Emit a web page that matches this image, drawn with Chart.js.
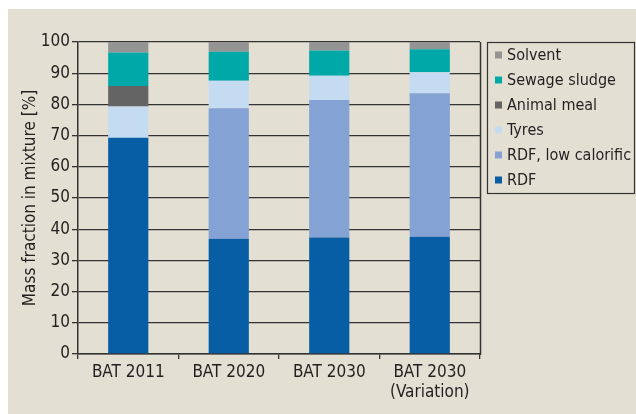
<!DOCTYPE html>
<html>
<head>
<meta charset="utf-8">
<script src="https://cdn.jsdelivr.net/npm/chart.js@4"></script>
<style>
  html, body { margin: 0; padding: 0; background: #fff; }
</style>
</head>
<body>
<canvas id="mixChart" width="636" height="414"></canvas>
<script>
// fuel shares per scenario, in % of the mixture
const categories = ["BAT 2011", "BAT 2020", "BAT 2030", ["BAT 2030", "(Variation)"]];
const rdf = [69.3, 36.9, 37.3, 37.6];
const rdfLowCalorific = [0, 41.9, 44.1, 46.0];
const tyres = [10.0, 8.8, 7.8, 6.7];
const animalMeal = [6.6, 0, 0, 0];
const sewageSludge = [10.7, 9.3, 8.1, 7.4];
const solvent = [3.4, 3.1, 2.7, 2.3];

const FONT = "'Liberation Sans Narrow', 'DejaVu Sans Condensed', sans-serif";
const INK = "#231f20";
const LINE = "#333333";

const paperBg = {
  id: "paperBg",
  beforeDraw(chart) {
    const ctx = chart.ctx;
    ctx.save();
    ctx.fillStyle = "#ffffff";
    ctx.fillRect(0, 0, chart.width, chart.height);
    ctx.fillStyle = "#e4dfd3";
    ctx.fillRect(8, 9, chart.width - 8, chart.height - 9);
    ctx.restore();
  },
};

// right edge of the plot frame + boxed legend (top series first)
const frameAndLegend = {
  id: "frameAndLegend",
  afterDraw(chart) {
    const ctx = chart.ctx;
    const area = chart.chartArea;
    ctx.save();
    ctx.strokeStyle = LINE;
    ctx.lineWidth = 1.5;
    ctx.beginPath();
    ctx.moveTo(area.right + 0.5, area.top);
    ctx.lineTo(area.right + 0.5, area.bottom + 1);
    ctx.stroke();

    const box = { x: 487.5, y: 42.5, w: 147, h: 151 };
    ctx.lineWidth = 1.2;
    ctx.strokeRect(box.x, box.y, box.w, box.h);

    const items = chart.data.datasets.slice().reverse();
    ctx.font = "16px " + FONT;
    ctx.textBaseline = "middle";
    items.forEach((ds, i) => {
      const cy = 55 + i * 25;
      ctx.fillStyle = ds.backgroundColor;
      ctx.fillRect(495, cy - 3.5, 7, 7);
      ctx.fillStyle = INK;
      ctx.fillText(ds.label, 507, cy + 1);
    });
    ctx.restore();
  },
};

new Chart(document.getElementById("mixChart"), {
  type: "bar",
  data: {
    labels: categories,
    datasets: [
      { label: "RDF", data: rdf, backgroundColor: "#085ea5" },
      { label: "RDF, low calorific", data: rdfLowCalorific, backgroundColor: "#84a2d4" },
      { label: "Tyres", data: tyres, backgroundColor: "#c5dbf1" },
      { label: "Animal meal", data: animalMeal, backgroundColor: "#646464" },
      { label: "Sewage sludge", data: sewageSludge, backgroundColor: "#00a8a8" },
      { label: "Solvent", data: solvent, backgroundColor: "#949494" },
    ],
  },
  options: {
    responsive: false,
    animation: false,
    devicePixelRatio: 1,
    barPercentage: 0.4,
    categoryPercentage: 1.0,
    layout: { padding: { left: 8, top: 42, right: 156, bottom: 0 } },
    plugins: { legend: { display: false }, tooltip: { enabled: false } },
    scales: {
      x: {
        stacked: true,
        offset: true,
        grid: { offset: true, drawOnChartArea: false, tickLength: 5, color: LINE, lineWidth: 1.3 },
        border: { color: LINE, width: 1.5 },
        ticks: { color: INK, font: { family: FONT, size: 17 }, padding: 3, maxRotation: 0 },
        afterFit: (s) => { s.height = 60; },
      },
      y: {
        stacked: true,
        min: 0,
        max: 100,
        ticks: { stepSize: 10, color: INK, font: { family: FONT, size: 17 }, padding: 2 },
        grid: { color: LINE, lineWidth: 1.3, tickLength: 6 },
        border: { color: LINE, width: 1.5 },
        title: {
          display: true,
          text: "Mass fraction in mixture [%]",
          color: INK,
          font: { family: FONT, size: 17 },
          padding: { top: 12, bottom: 0 },
        },
        afterFit: (s) => { s.width = 70; },
      },
    },
  },
  plugins: [paperBg, frameAndLegend],
});
</script>
</body>
</html>
